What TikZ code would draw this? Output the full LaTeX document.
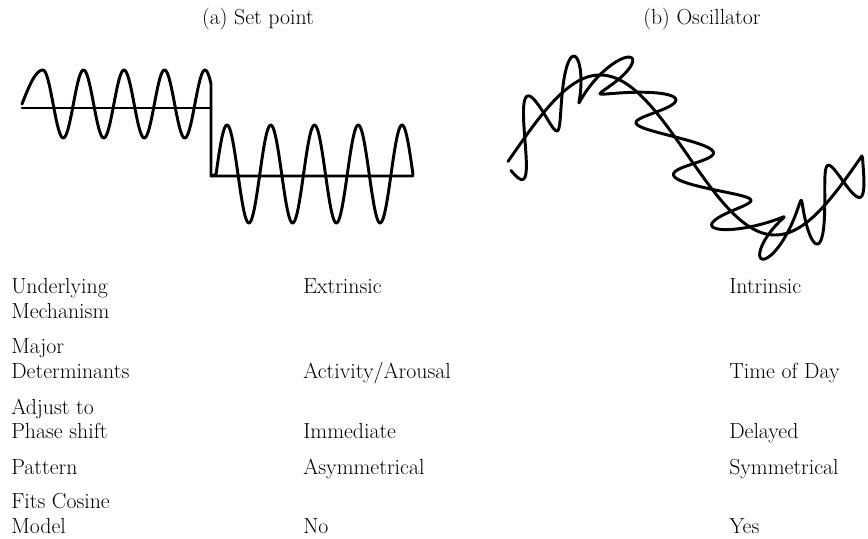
\documentclass[tikz,border=0pt]{standalone}
\usetikzlibrary{calc}
\tikzset{
  txt/.style={anchor=base west,inner sep=0pt,font=\fontsize{15.5}{18}\selectfont},
  ttl/.style={anchor=base,inner sep=0pt,font=\fontsize{15.5}{18}\selectfont},
  wave/.style={line width=2.1pt,line join=round,line cap=round},
  declare function={
    sl(\t)=155-80*sin(1.028571*(\t-512.5));
    dsl(\t)=-1.436*cos(1.028571*(\t-512.5));
    nn(\t)=sqrt(1+dsl(\t)^2);
    ph(\t)=9.6*(\t-506);
  },
}

\begin{document}
\begin{tikzpicture}[x=0.025cm,y=-0.025cm]
\useasboundingbox (0,0) rectangle (868,539);
\node[ttl] (ta) at (258,24) {(a) Set point};
\node[ttl] (tb) at (702,24) {(b) Oscillator};
% set point
\draw[wave] (22,108) -- (211,108);
\draw[wave] plot[domain=22:43,samples=30] (\x,{104-34*sin(4.2857*(\x-22))})
  -- plot[domain=43:211,samples=200] (\x,{104-34*cos(8.8889*(\x-43))})
  -- (211,176) -- (413,176);
\draw[wave] (211,176) -- plot[domain=216:413,samples=200] (\x,{174-49*cos(8.2286*(\x-227))});
% oscillator
\draw[wave] plot[domain=508:862,samples=200] (\x,{sl(\x)});
\draw[wave] plot[domain=508:862,samples=900,variable=\t]
  ({\t+23*sin(ph(\t))*(-dsl(\t)-0.75)/nn(\t)},
   {sl(\t)+23*sin(ph(\t))*(1-0.75*dsl(\t))/nn(\t)});
% table
\node[txt] (l1a) at (11,293) {Underlying};
\node[txt] (l1b) at (11,318) {Mechanism};
\node[txt] (m1) at (303,293) {Extrinsic};
\node[txt] (r1) at (729,293) {Intrinsic};
\node[txt] (l2a) at (11,353) {Major};
\node[txt] (l2b) at (11,378) {Determinants};
\node[txt] (m2) at (303,378) {Activity/Arousal};
\node[txt] (r2) at (729,378) {Time of Day};
\node[txt] (l3a) at (11,414) {Adjust to};
\node[txt] (l3b) at (11,438) {Phase shift};
\node[txt] (m3) at (303,438) {Immediate};
\node[txt] (r3) at (729,438) {Delayed};
\node[txt] (l4) at (11,474) {Pattern};
\node[txt] (m4) at (303,474) {Asymmetrical};
\node[txt] (r4) at (729,474) {Symmetrical};
\node[txt] (l5a) at (11,508) {Fits Cosine};
\node[txt] (l5b) at (11,533) {Model};
\node[txt] (m5) at (303,533) {No};
\node[txt] (r5) at (729,533) {Yes};
\end{tikzpicture}
\end{document}
